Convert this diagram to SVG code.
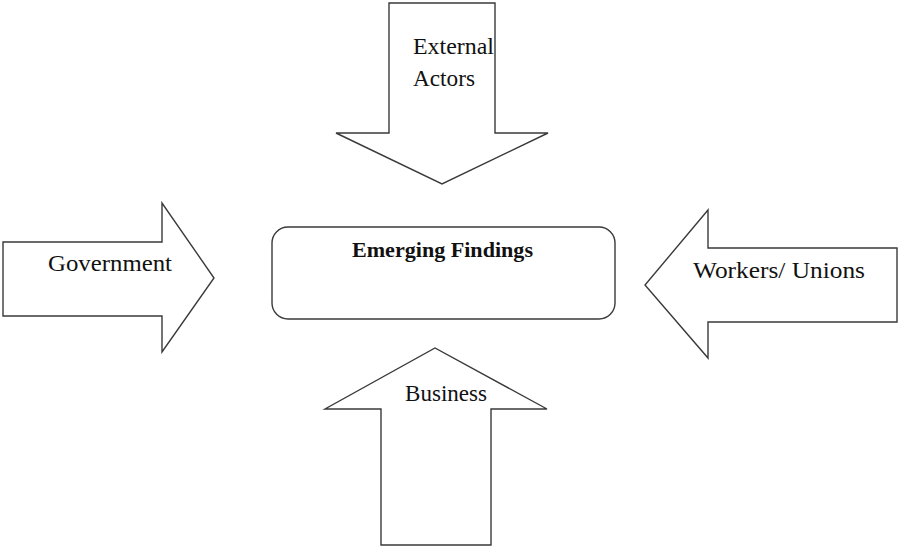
<svg xmlns="http://www.w3.org/2000/svg" width="899" height="548" viewBox="0 0 899 548">
<style>
.shape{fill:#fff;stroke:#3a3a3a;stroke-width:1.4;stroke-linejoin:miter}
.lbl{font-family:"Liberation Serif","Times New Roman",serif;font-size:23px;fill:#111}
.bold{font-weight:bold;font-size:21px}
</style>
<rect width="899" height="548" fill="#fff"/>
<g id="connectors">
<g id="external-actors">
<polygon class="shape" points="389,3 495,3 495,133 548,133 442,184 336,133 389,133"/>
<text class="lbl" x="413" y="54" textLength="81" lengthAdjust="spacingAndGlyphs">External</text>
<text class="lbl" x="413" y="86" textLength="62" lengthAdjust="spacingAndGlyphs">Actors</text>
</g>
<g id="government">
<polygon class="shape" points="3,242 162,242 162,203 214,278 162,352 162,316 3,316"/>
<text class="lbl" x="48" y="271" textLength="124" lengthAdjust="spacingAndGlyphs">Government</text>
</g>
<g id="workers-unions">
<polygon class="shape" points="897,248 708,248 708,210 645,285 708,358 708,322 897,322"/>
<text class="lbl" x="693" y="278" textLength="172" lengthAdjust="spacingAndGlyphs">Workers/ Unions</text>
</g>
<g id="business">
<polygon class="shape" points="381,545 491,545 491,409 547,409 435,348 325,409 381,409"/>
<text class="lbl" x="405" y="401" textLength="82" lengthAdjust="spacingAndGlyphs">Business</text>
</g>
</g>
<g id="emerging-findings">
<rect class="shape" x="272" y="227" width="343" height="92" rx="16" ry="16"/>
<text class="lbl bold" x="352" y="257" textLength="181" lengthAdjust="spacingAndGlyphs">Emerging Findings</text>
</g>
</svg>
